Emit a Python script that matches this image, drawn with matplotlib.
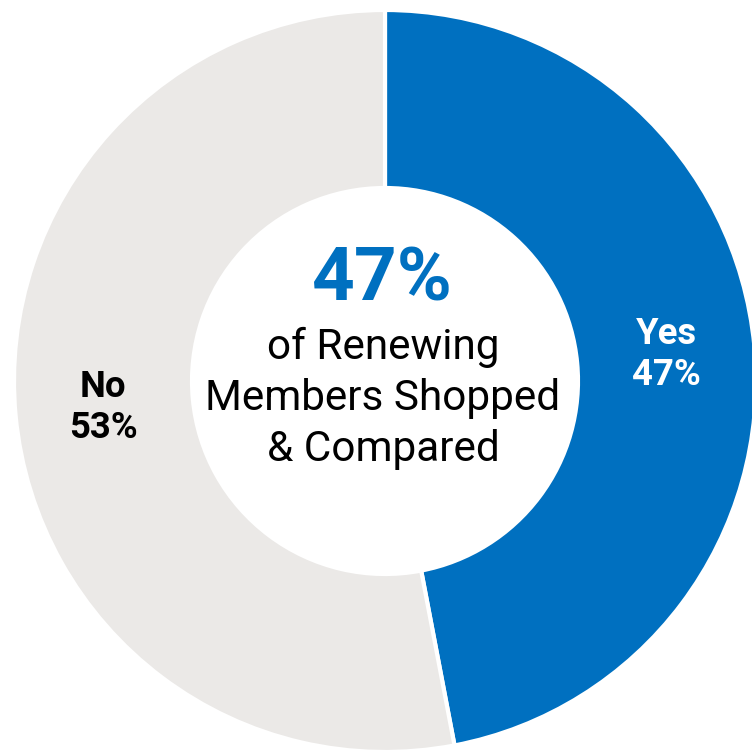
import matplotlib
matplotlib.use("Agg")
import matplotlib.pyplot as plt

categories = ["Yes", "No"]
shares = [47, 53]
colors = ["#0070C0", "#EBE9E7"]
label_colors = ["white", "black"]
headline_value = 47
headline_text = ["of Renewing", "Members Shopped", "& Compared"]

W, H = 752, 753
fig = plt.figure(figsize=(W / 100, H / 100), dpi=100)
ax = fig.add_axes([0, 0, 1, 1])

cx, cy = 385, H - 381
R = 371
hole = 193

wedges, texts = ax.pie(
    shares,
    colors=colors,
    startangle=90,
    counterclock=False,
    center=(cx, cy),
    radius=R,
    labels=[f"{c}\n{v}%" for c, v in zip(categories, shares)],
    labeldistance=0.763,
    wedgeprops=dict(width=R - hole, edgecolor="white", linewidth=3),
    textprops=dict(fontfamily="Roboto", fontweight="bold", fontsize=26.3,
                   ha="center", va="center", linespacing=1.2),
)
for t, c in zip(texts, label_colors):
    t.set_color(c)
    t.set_horizontalalignment("center")

ax.text(cx - 3, H - 300, f"{headline_value}%", color=colors[0],
        fontfamily="Roboto", fontweight="bold", fontsize=53.7,
        ha="center", va="baseline")
for line, yb in zip(headline_text, [359, 410, 461]):
    ax.text(cx - 2, H - yb, line, color="black", fontfamily="Roboto",
            fontsize=30.4, ha="center", va="baseline")

ax.set_xlim(0, W)
ax.set_ylim(0, H)
ax.set_aspect("auto")
ax.axis("off")
fig.savefig("out.png", dpi=100, facecolor="white")
